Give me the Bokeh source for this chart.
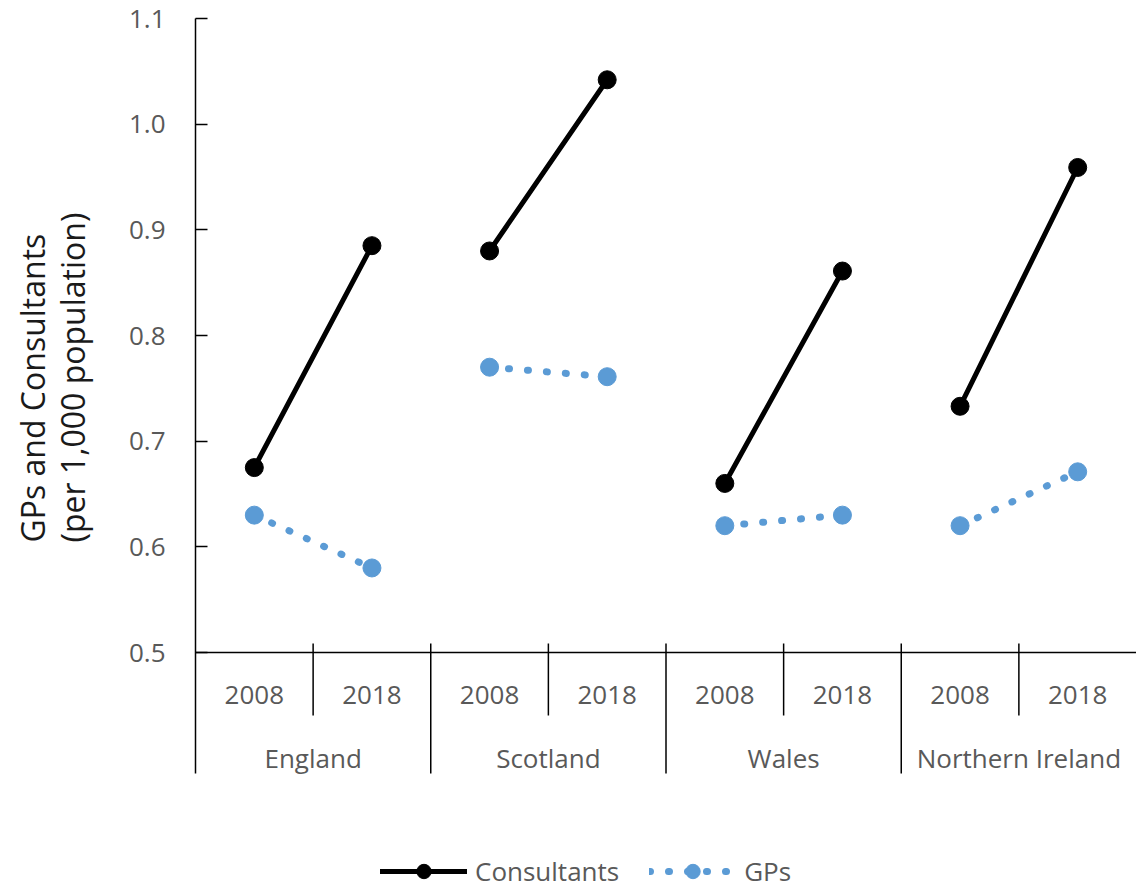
from bokeh.plotting import figure
from bokeh.models import (FactorRange, Range1d, FixedTicker, Span, Title, Legend,
                          LegendItem, ColumnDataSource, NumeralTickFormatter, LinearAxis)
from bokeh.core.properties import value
from bokeh.embed import file_html
from bokeh.resources import INLINE

# ---------------- data ----------------
countries = ["England", "Scotland", "Wales", "Northern Ireland"]
years = ["2008", "2018"]
consultants_2008 = [0.675, 0.880, 0.660, 0.733]
consultants_2018 = [0.885, 1.042, 0.861, 0.959]
gps_2008 = [0.630, 0.770, 0.620, 0.620]
gps_2018 = [0.580, 0.761, 0.630, 0.671]
y_ticks = [0.5, 0.6, 0.7, 0.8, 0.9, 1.0, 1.1]
y_title = "GPs and Consultants\n(per 1,000 population)"

# ---------------- style / layout ----------------
FONT = "Open Sans"
GREY = "#595959"
BLUE = "#5B9BD5"
W, H = 1136, 889
LEFT, TOP = 195, 18
frame_h = H - TOP
Y_MAX = max(y_ticks)
Y_AXIS = min(y_ticks)
ppu = 634 / (Y_MAX - Y_AXIS)          # pixels per data unit
y_start = Y_MAX - frame_h / ppu
y_table = Y_AXIS - 121 / ppu          # bottom of the category table
y_short = Y_AXIS - 63 / ppu           # bottom of inner separators
y_tick_top = Y_AXIS + 9 / ppu
y_year = Y_AXIS - 42 / ppu
y_country = Y_AXIS - 105 / ppu

factors = [(c, y) for c in countries for y in years]
x_range = FactorRange(*factors, factor_padding=0, group_padding=0,
                      subgroup_padding=0, range_padding=0)

p = figure(width=W, height=H, x_range=x_range, y_range=Range1d(y_start, Y_MAX),
           output_backend="svg", toolbar_location=None, title=None,
           x_axis_location=None,
           min_border_left=LEFT, min_border_top=TOP, min_border_right=0,
           min_border_bottom=0)
p.outline_line_color = None
p.grid.visible = False

# y axis
ya = p.yaxis[0]
ya.ticker = FixedTicker(ticks=y_ticks)
ya.formatter = NumeralTickFormatter(format="0.0")
ya.bounds = (y_table, Y_MAX)
ya.axis_line_color = "black"
ya.axis_line_width = 1.5
ya.major_tick_line_color = "black"
ya.major_tick_line_width = 1.5
ya.major_tick_in = 12
ya.major_tick_out = 0
ya.minor_tick_line_color = None
ya.major_label_standoff = 30
ya.major_label_text_font = FONT
ya.major_label_text_font_size = "26px"
ya.major_label_text_color = GREY

# blank spacer axis between the tick labels and the title
spacer = LinearAxis(ticker=FixedTicker(ticks=[Y_MAX]), axis_line_color=None,
                    major_tick_line_color="white", minor_tick_line_color=None,
                    major_tick_in=0, major_tick_out=25, major_label_standoff=0,
                    major_label_overrides={Y_MAX: ""})
p.add_layout(spacer, "left")

# y title
p.add_layout(Title(text=y_title, align="left", offset=347, standoff=13,
                   text_font=FONT, text_font_size="32px", text_font_style="normal",
                   text_color="#1a1a1a", text_line_height=0.94), "left")

# horizontal category axis line at 0.5
p.add_layout(Span(location=Y_AXIS, dimension="width", line_color="black", line_width=1.5))

# separators of the category table
sep_x, sep_y0, sep_y1 = [], [], []
for (c, yr) in factors[:-1]:
    sep_x.append((c, yr, 0.5))
    sep_y0.append(y_tick_top)
    sep_y1.append(y_short if yr == years[0] else y_table)
p.segment(x0="x", y0="y0", x1="x", y1="y1",
          source=ColumnDataSource(dict(x=sep_x, y0=sep_y0, y1=sep_y1)),
          line_color="black", line_width=1.5)

# category labels
p.text(x="x", y="y", text="t",
       source=ColumnDataSource(dict(x=factors, y=[y_year] * len(factors),
                                    t=[yr for _, yr in factors])),
       text_align="center", text_baseline="middle", text_font=value(FONT),
       text_font_size="26px", text_color=GREY)
p.text(x="x", y="y", text="t",
       source=ColumnDataSource(dict(x=countries, y=[y_country] * len(countries),
                                    t=countries)),
       text_align="center", text_baseline="middle", text_font=value(FONT),
       text_font_size="26px", text_color=GREY)

# series
def series(v08, v18, color, width, dash):
    seg = p.segment(x0="x0", y0="y0", x1="x1", y1="y1",
                    source=ColumnDataSource(dict(
                        x0=[(c, years[0]) for c in countries],
                        x1=[(c, years[1]) for c in countries],
                        y0=v08, y1=v18)),
                    line_color=color, line_width=width, line_dash=dash,
                    line_cap="round")
    ys = []
    for a, b in zip(v08, v18):
        ys += [a, b]
    sc = p.scatter(x="x", y="y", source=ColumnDataSource(dict(x=factors, y=ys)),
                   marker="circle", size=18, fill_color=color, line_color=color)
    return seg, sc

seg_c, sc_c = series(consultants_2008, consultants_2018, "black", 5, "solid")
seg_g, sc_g = series(gps_2008, gps_2018, BLUE, 7, "1 18")

legend = Legend(items=[LegendItem(label="Consultants", renderers=[seg_c, sc_c]),
                       LegendItem(label="GPs", renderers=[seg_g, sc_g])],
                location=(185, 0), orientation="horizontal",
                padding=0, margin=0, spacing=30, glyph_width=87, glyph_height=36,
                label_standoff=8, border_line_color=None,
                background_fill_alpha=0,
                label_text_font=FONT, label_text_font_size="26px",
                label_text_color=GREY)
p.add_layout(legend)

open("out.html", "w").write(file_html(p, INLINE))
